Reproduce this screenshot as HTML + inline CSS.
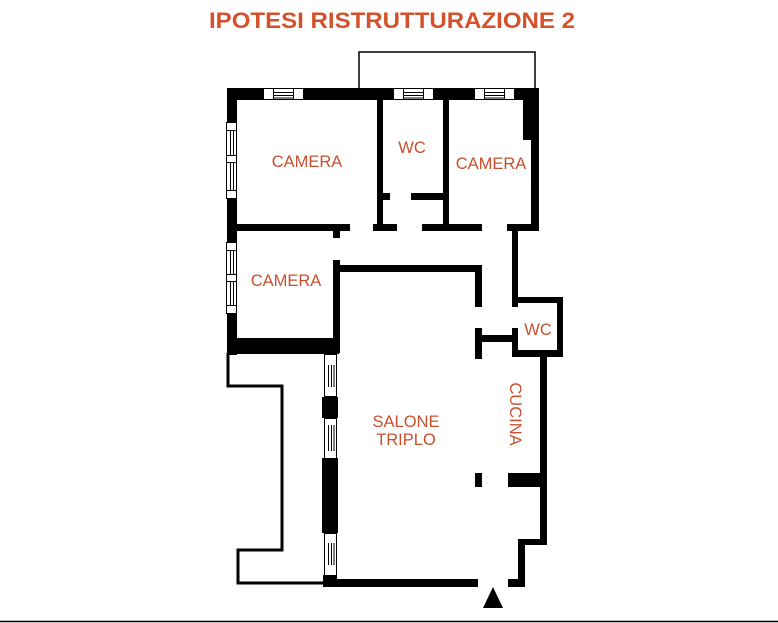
<!DOCTYPE html>
<html><head><meta charset="utf-8"><style>
html,body{margin:0;padding:0;background:#fff;width:778px;height:623px;overflow:hidden}
svg{display:block}
text{font-family:"Liberation Sans",sans-serif;fill:#c9502e}
</style></head><body>
<svg width="778" height="623" viewBox="0 0 778 623" xmlns="http://www.w3.org/2000/svg">
<text x="392" y="28" text-anchor="middle" font-size="22" font-weight="bold" textLength="366" lengthAdjust="spacingAndGlyphs" style="fill:#d5512b">IPOTESI RISTRUTTURAZIONE 2</text>

<g fill="none" stroke="#000" stroke-width="1.5">
<polyline points="359,88 359,52 535,52 535,88"/>
<polyline points="228,353 228,386 282,386 282,550 238,550 238,583 333,583" stroke-width="3"/>
</g>

<g fill="#000">
<rect x="227" y="88" width="312" height="12"/>
<rect x="227" y="88" width="10" height="267"/>
<rect x="523" y="88" width="16" height="52"/>
<rect x="531" y="88" width="8" height="143"/>
<rect x="237" y="224" width="113" height="7"/>
<rect x="333" y="231" width="7" height="7"/>
<rect x="377" y="100" width="6" height="131"/>
<rect x="383" y="193" width="7" height="7"/>
<rect x="373" y="224" width="24" height="7"/>
<rect x="443" y="100" width="6" height="131"/>
<rect x="411" y="193" width="32" height="7"/>
<rect x="422" y="224" width="60" height="7"/>
<rect x="507" y="224" width="32" height="7"/>
<rect x="512" y="224" width="6" height="83"/>
<rect x="512" y="297" width="51" height="6"/>
<rect x="557" y="297" width="6" height="60"/>
<rect x="512" y="350" width="51" height="7"/>
<rect x="512" y="328" width="6" height="29"/>
<rect x="475" y="328" width="7" height="31"/>
<rect x="482" y="335" width="30" height="7"/>
<rect x="333" y="260" width="7" height="93"/>
<rect x="333" y="265" width="149" height="7"/>
<rect x="475" y="265" width="7" height="42"/>
<rect x="227" y="338" width="112" height="16"/>
<rect x="540" y="355" width="7" height="190"/>
<rect x="518" y="539" width="29" height="6"/>
<rect x="518" y="539" width="7" height="48"/>
<rect x="508" y="579" width="17" height="8"/>
<rect x="508" y="473" width="32" height="14"/>
<rect x="475" y="473" width="7" height="14"/>
<rect x="330" y="579" width="148" height="8"/>
<rect x="323" y="575" width="14" height="12"/>
<rect x="322" y="397" width="16" height="21"/>
<rect x="322" y="458" width="16" height="75"/>
<rect x="322" y="340" width="16" height="14"/>
<polygon points="493,587 483,608 503,608"/>
</g>

<g fill="#fff" stroke="#000" stroke-width="1">
<rect x="263.5" y="88.5" width="40" height="11"/>
<rect x="393.5" y="88.5" width="40" height="11"/>
<rect x="474.5" y="88.5" width="40" height="11"/>
<rect x="226.5" y="122.5" width="10" height="76"/>
<rect x="226.5" y="242.5" width="10" height="71"/>
<rect x="324.5" y="354.5" width="12" height="42"/>
<rect x="324.5" y="418.5" width="12" height="40"/>
<rect x="324.5" y="533.5" width="12" height="42"/>
</g>
<g stroke="#000" stroke-width="1" fill="none">
<path d="M273.5,88v12M293.5,88v12M273,92.5h20M273,95.5h20M273,98h20"/>
<path d="M403.5,88v12M423.5,88v12M403,92.5h20M403,95.5h20M403,98h20"/>
<path d="M484.5,88v12M504.5,88v12M484,92.5h20M484,95.5h20M484,98h20"/>
<path d="M227,130.5h10M227,155.5h10M227,162.5h10M227,190.5h10M230.5,130v25M233.5,130v25M230.5,163v27M233.5,163v27"/>
<path d="M227,250.5h10M227,274.5h10M227,281.5h10M227,305.5h10M230.5,250v24M233.5,250v24M230.5,282v23M233.5,282v23"/>
<path d="M328.5,365v22M331.5,365v22M334,365v22M328.5,425v26M331.5,425v26M334,425v26M328.5,543v22M331.5,543v22M334,543v22"/>
</g>

<line x1="0" y1="621.5" x2="778" y2="621.5" stroke="#000" stroke-width="1.5"/>

<g font-size="16.5">
<text x="307" y="167" text-anchor="middle">CAMERA</text>
<text x="412" y="153" text-anchor="middle">WC</text>
<text x="491" y="169" text-anchor="middle">CAMERA</text>
<text x="286" y="286" text-anchor="middle">CAMERA</text>
<text x="538" y="335" text-anchor="middle">WC</text>
<text x="406" y="427" text-anchor="middle">SALONE</text>
<text x="406" y="445" text-anchor="middle">TRIPLO</text>
<text transform="translate(510,414) rotate(90)" text-anchor="middle">CUCINA</text>
</g>
</svg>
</body></html>
